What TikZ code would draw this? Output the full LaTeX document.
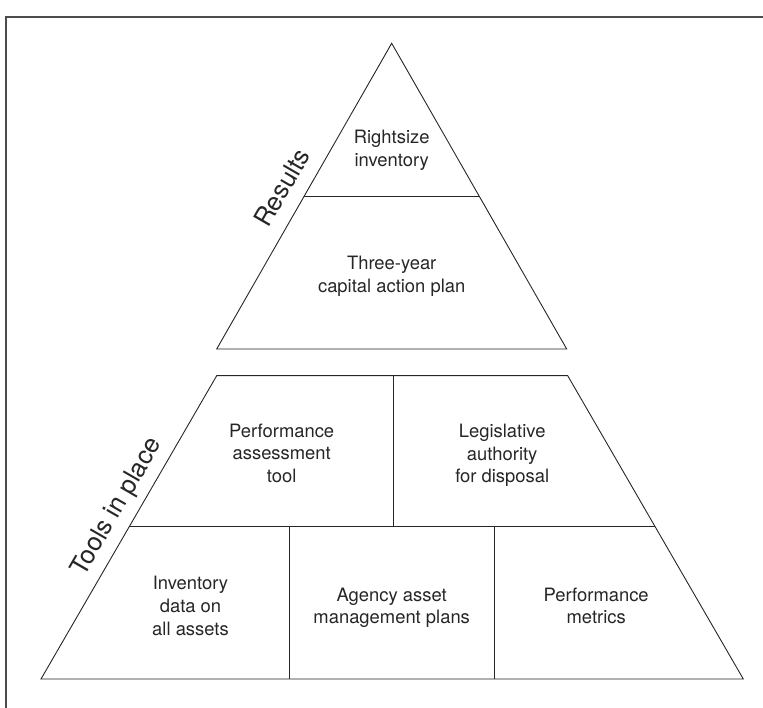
\documentclass[tikz,border=0pt]{standalone}
\usepackage{fontspec}
\setmainfont{TeX Gyre Heros}
\begin{document}
\begin{tikzpicture}[x=1pt,y=-1pt,
  shape line/.style={draw=black!85,line width=0.9pt,line join=miter},
  frame line/.style={draw=black!70,line width=1.1pt},
  celltext/.style={align=center,inner sep=0pt,font=\fontsize{18.4}{22.6}\selectfont,text=black!85},
  sidelabel/.style={inner sep=0pt,rotate=60,font=\fontsize{25.5}{30}\selectfont,text=black!85}]
\useasboundingbox (0,0) rectangle (763,708);
% frame (only top and left edges visible)
\draw[frame line] (763,17) -- (6,17) -- (6,708);
% triangle
\coordinate (apex) at (391.7,43.3);
\coordinate (tbl) at (216.7,349);
\coordinate (tbr) at (566.7,349);
\coordinate (tml) at (304.2,196.7);
\coordinate (tmr) at (479.2,196.7);
\draw[shape line] (apex) -- (tbr) -- (tbl) -- cycle;
\draw[shape line] (tml) -- (tmr);
% trapezoid
\coordinate (ztl) at (216.7,375.7);
\coordinate (ztr) at (567.7,375.7);
\coordinate (zbl) at (41,679);
\coordinate (zbr) at (743.3,679);
\coordinate (zml) at (129,526.3);
\coordinate (zmr) at (655.3,526.3);
\coordinate (d1t) at (393.3,375.7);
\coordinate (d1b) at (393.3,526.3);
\coordinate (d2t) at (289.3,526.3);
\coordinate (d2b) at (289.3,679);
\coordinate (d3t) at (494.6,526.3);
\coordinate (d3b) at (494.6,679);
\draw[shape line] (ztl) -- (ztr) -- (zbr) -- (zbl) -- cycle;
\draw[shape line] (zml) -- (zmr);
\draw[shape line] (d1t) -- (d1b);
\draw[shape line] (d2t) -- (d2b);
\draw[shape line] (d3t) -- (d3b);
% texts
\node[celltext] (rightsize) at (391.7,150.5) {Rightsize\\inventory};
\node[celltext] (threeyear) at (391.7,276.6) {Three-year\\capital action plan};
\node[celltext] (perfassess) at (281.7,453.4) {Performance\\assessment\\tool};
\node[celltext] (legis) at (502.2,455.3) {Legislative\\authority\\for disposal};
\node[celltext] (inventory) at (190.5,605.9) {Inventory\\data on\\all assets};
\node[celltext] (agency) at (391.7,607.8) {Agency asset\\management plans};
\node[celltext] (metrics) at (596.2,605.8) {Performance\\metrics};
\node[sidelabel] (results) at (282,187.5) {Results};
\node[sidelabel] (tools) at (117.3,507.3) {Tools in place};
\end{tikzpicture}
\end{document}
